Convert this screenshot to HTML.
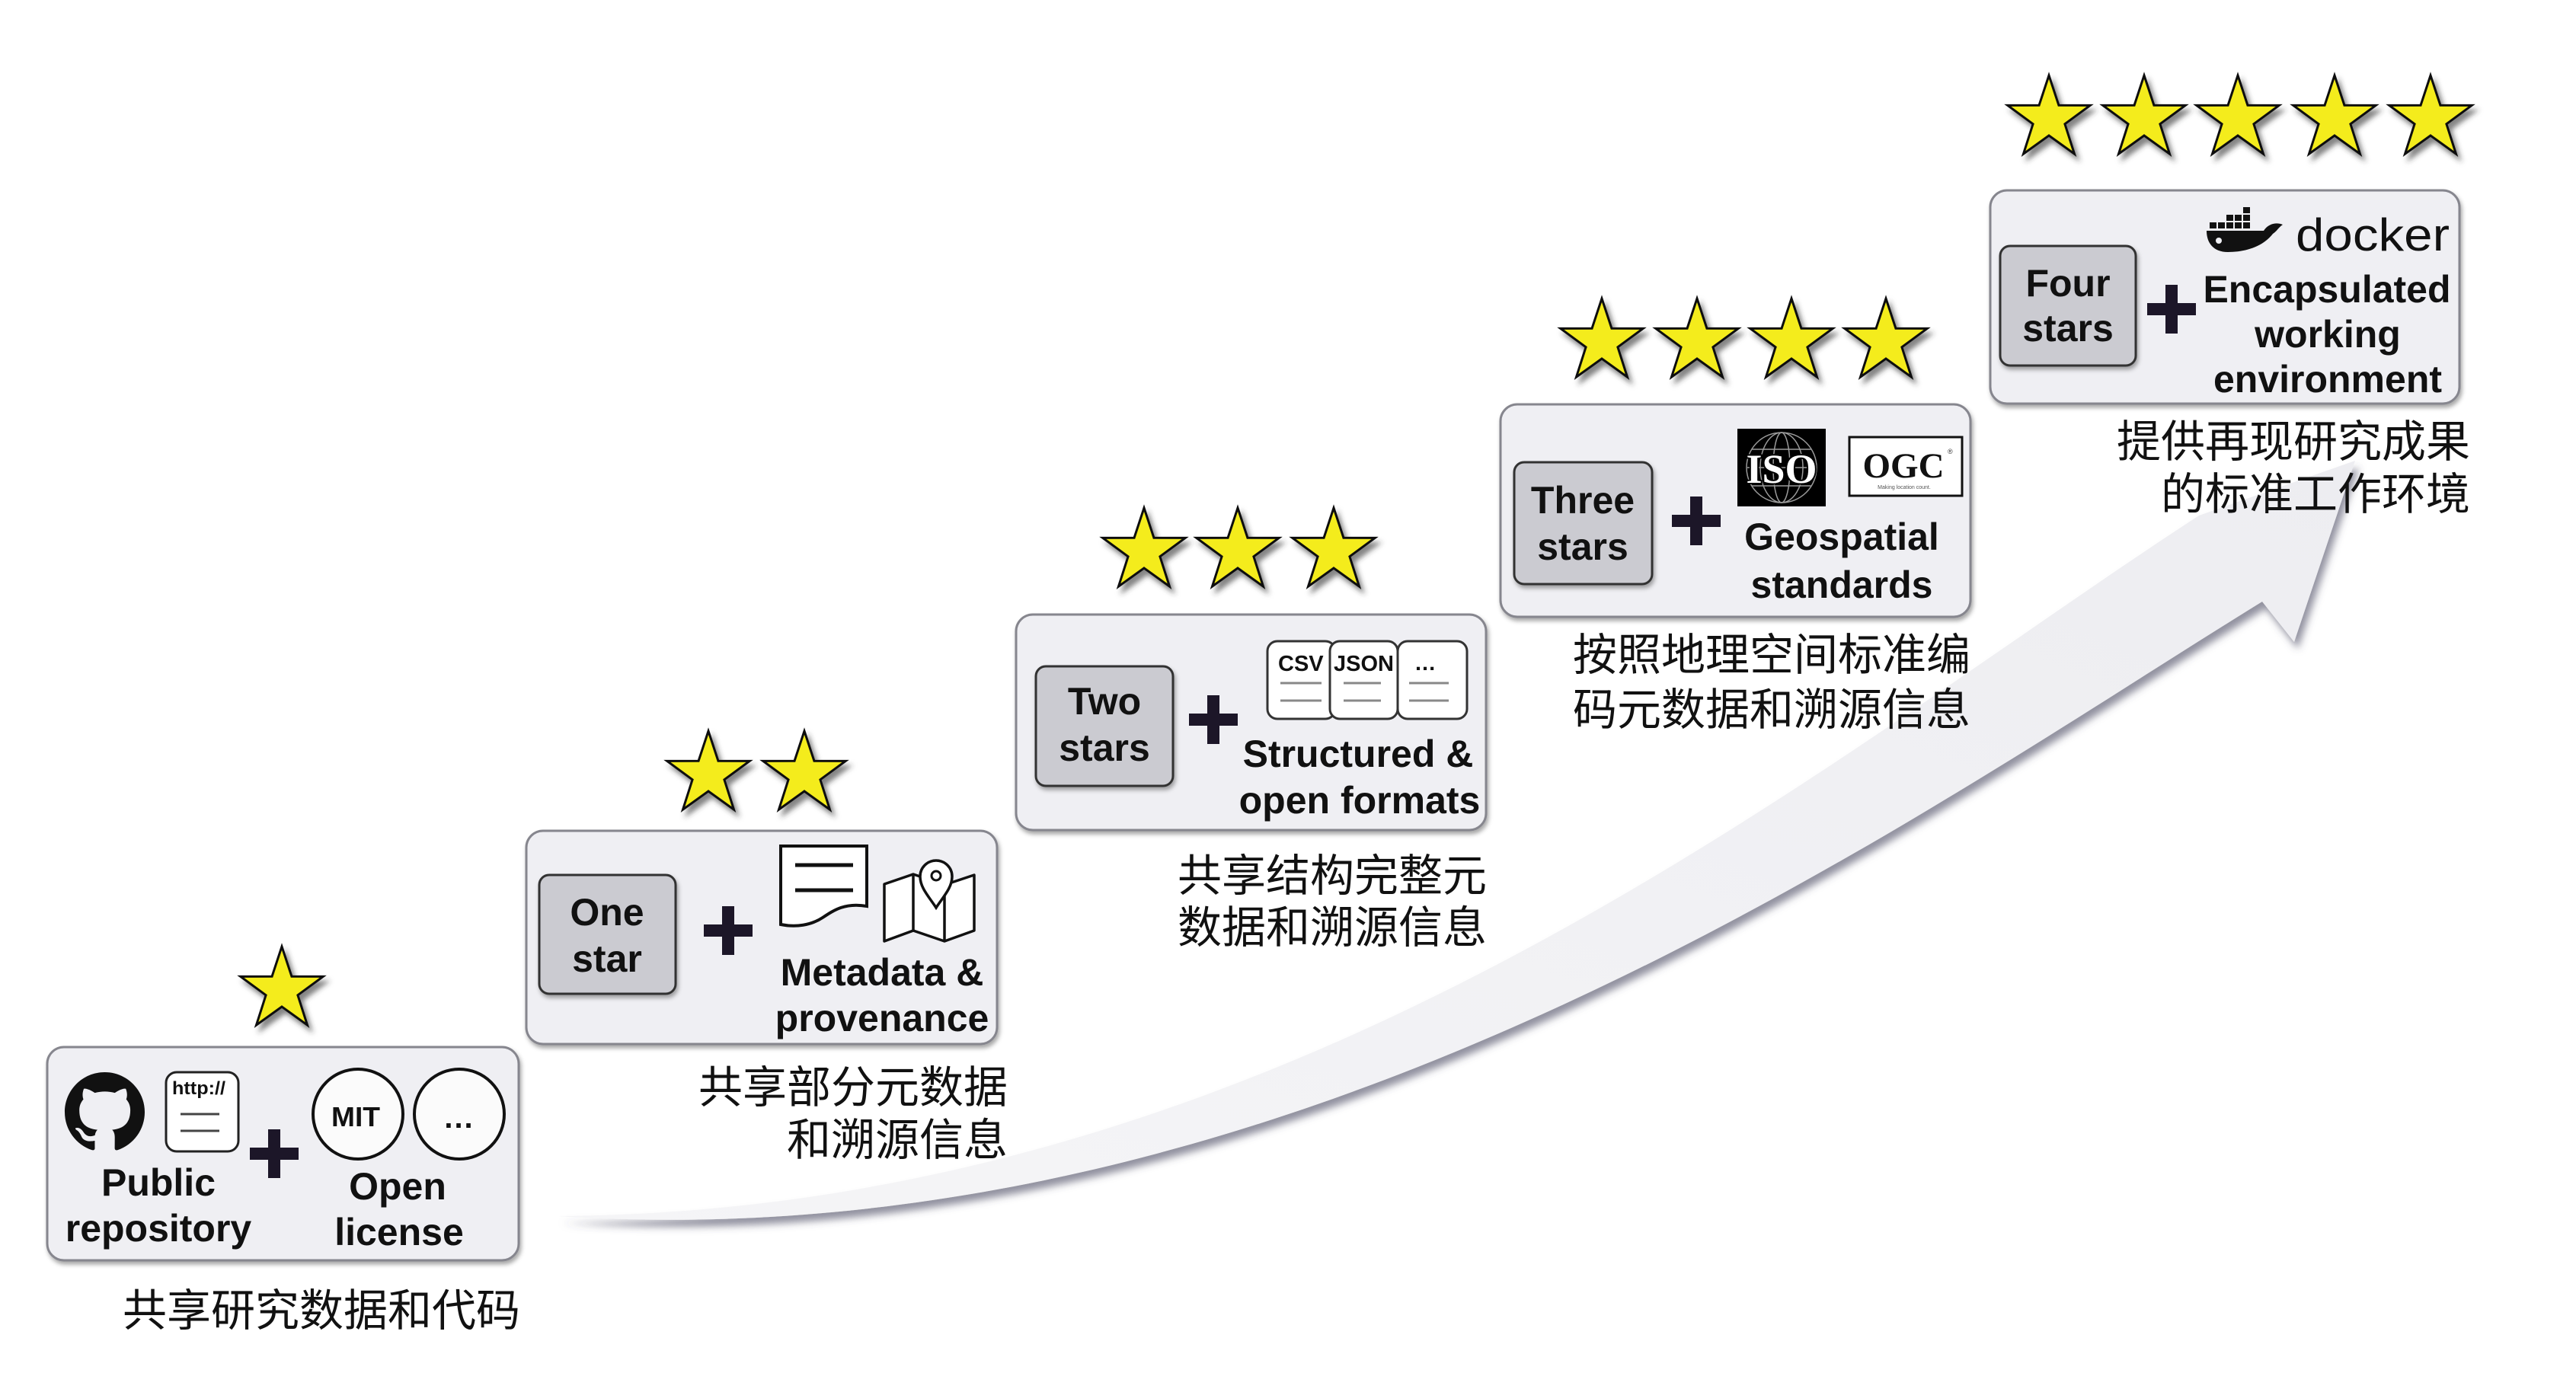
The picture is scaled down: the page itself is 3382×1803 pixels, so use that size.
<!DOCTYPE html>
<html>
<head>
<meta charset="utf-8">
<style>
html,body{margin:0;padding:0;background:#fff;}
svg{display:block;}
.b{font-family:"Liberation Sans",Arial,sans-serif;font-weight:bold;fill:#111;}
.cj{font-family:"Liberation Sans","Noto Sans CJK SC","WenQuanYi Zen Hei",sans-serif;font-size:58px;fill:#111;}
.sf{font-family:"Liberation Serif","Times New Roman",serif;font-weight:bold;}
</style>
</head>
<body>
<svg width="3382" height="1803" viewBox="0 0 3382 1803" xmlns="http://www.w3.org/2000/svg">
<defs>
  <filter id="sh" x="-10%" y="-10%" width="120%" height="130%">
    <feDropShadow dx="2" dy="4" stdDeviation="3" flood-color="#000" flood-opacity="0.35"/>
  </filter>
  <filter id="ssh" x="-30%" y="-30%" width="170%" height="170%">
    <feDropShadow dx="5" dy="7" stdDeviation="3.5" flood-color="#333" flood-opacity="0.6"/>
  </filter>
  <filter id="ash" x="-5%" y="-20%" width="115%" height="140%">
    <feDropShadow dx="5" dy="9" stdDeviation="5" flood-color="#4a4a60" flood-opacity="0.6"/>
  </filter>
  <linearGradient id="ag" x1="0" y1="1" x2="1" y2="0">
    <stop offset="0" stop-color="#f5f5f7"/>
    <stop offset="1" stop-color="#ededf1"/>
  </linearGradient>
  <polygon id="st" points="0,-57 12.93,-17.8 54.21,-17.61 20.92,6.8 33.5,46.11 0,22 -33.5,46.11 -20.92,6.8 -54.21,-17.61 -12.93,-17.8" fill="#f4ec1c" stroke="#111" stroke-width="3"/>
</defs>

<!-- Big curved arrow -->
<path d="M733,1597 C1700,1590 2387,1002 2887,677 L3092,605 L3012,843 L2970,790 C2500,1080 1700,1660 733,1597 Z" fill="url(#ag)" filter="url(#ash)"/>

<!-- ============ STARS ============ -->
<g filter="url(#ssh)">
  <use href="#st" x="370" y="1300"/>
  <use href="#st" x="930" y="1017"/>
  <use href="#st" x="1056" y="1017"/>
  <use href="#st" x="1502" y="724"/>
  <use href="#st" x="1625" y="724"/>
  <use href="#st" x="1751" y="724"/>
  <use href="#st" x="2103" y="449"/>
  <use href="#st" x="2228" y="449"/>
  <use href="#st" x="2352" y="449"/>
  <use href="#st" x="2476" y="449"/>
  <use href="#st" x="2690" y="156"/>
  <use href="#st" x="2815" y="156"/>
  <use href="#st" x="2938" y="156"/>
  <use href="#st" x="3065" y="156"/>
  <use href="#st" x="3191" y="156"/>
</g>

<!-- ============ BOXES ============ -->
<g fill="#efeff3" stroke="#86868e" stroke-width="3" filter="url(#sh)">
  <rect x="62" y="1375" width="619" height="280" rx="22"/>
  <rect x="691" y="1091" width="618" height="280" rx="22"/>
  <rect x="1334" y="807" width="617" height="283" rx="22"/>
  <rect x="1970" y="531" width="617" height="279" rx="22"/>
  <rect x="2613" y="250" width="616" height="280" rx="22"/>
</g>

<!-- inner grey tiles -->
<g fill="#cbcbd1" stroke="#333" stroke-width="3" filter="url(#sh)">
  <rect x="708" y="1149" width="179" height="156" rx="13"/>
  <rect x="1360" y="875" width="180" height="157" rx="13"/>
  <rect x="1988" y="607" width="181" height="160" rx="13"/>
  <rect x="2626" y="323" width="178" height="157" rx="13"/>
</g>
<g class="b" font-size="50" text-anchor="middle">
  <text x="797" y="1215">One</text>
  <text x="797" y="1276">star</text>
  <text x="1450" y="938">Two</text>
  <text x="1450" y="999">stars</text>
  <text x="2078" y="674">Three</text>
  <text x="2078" y="735">stars</text>
  <text x="2715" y="389">Four</text>
  <text x="2715" y="448">stars</text>
</g>

<!-- plus signs -->
<g fill="#1c1628">
  <rect x="328" y="1507" width="64" height="16"/><rect x="352" y="1483" width="16" height="64"/>
  <rect x="924" y="1214" width="64" height="16"/><rect x="948" y="1190" width="16" height="64"/>
  <rect x="1561" y="937" width="64" height="16"/><rect x="1585" y="913" width="16" height="64"/>
  <rect x="2195" y="676" width="64" height="16"/><rect x="2219" y="652" width="16" height="64"/>
  <rect x="2819" y="398" width="64" height="16"/><rect x="2843" y="374" width="16" height="64"/>
</g>

<!-- ============ BOX 1 content ============ -->
<g transform="translate(85,1408) scale(6.5625)">
  <path fill="#111" d="M8 0C3.58 0 0 3.58 0 8c0 3.54 2.29 6.53 5.470 7.59.4.07.55-.17.55-.38 0-.19-.01-.82-.01-1.49-2.01.37-2.53-.49-2.69-.94-.09-.23-.48-.94-.82-1.13-.28-.15-.68-.52-.01-.53.63-.01 1.08.58 1.23.82.72 1.21 1.870.87 2.33.66.07-.52.28-.87.51-1.07-1.78-.2-3.64-.89-3.64-3.95 0-.87.31-1.59.82-2.15-.08-.2-.36-1.02.08-2.12 0 0 .67-.21 2.2.82.64-.18 1.32-.27 2-.27.68 0 1.36.09 2 .27 1.53-1.04 2.2-.82 2.2-.82.44 1.1.16 1.92.08 2.12.51.56.82 1.27.82 2.15 0 3.07-1.87 3.750-3.65 3.95.29.25.54.73.54 1.48 0 1.07-.01 1.93-.01 2.2 0 .21.15.46.55.38A8.013 8.013 0 0016 8c0-4.42-3.58-8-8-8z"/>
</g>
<rect x="218" y="1408" width="95" height="104" rx="14" fill="#fff" stroke="#222" stroke-width="3"/>
<text class="b" x="226" y="1437" font-size="24" textLength="70" lengthAdjust="spacingAndGlyphs" fill="#333">http://</text>
<path d="M237,1463 H288 M237,1485 H288" stroke="#444" stroke-width="3"/>
<circle cx="470" cy="1463" r="59" fill="#fbfbfb" stroke="#111" stroke-width="4"/>
<circle cx="603" cy="1463" r="59" fill="#fbfbfb" stroke="#111" stroke-width="4"/>
<text class="b" x="467" y="1479" font-size="36" text-anchor="middle" textLength="64" lengthAdjust="spacingAndGlyphs">MIT</text>
<text class="b" x="603" y="1481" font-size="40" text-anchor="middle" letter-spacing="2">...</text>
<g class="b" font-size="50" text-anchor="middle">
  <text x="208" y="1570">Public</text>
  <text x="208" y="1630">repository</text>
  <text x="522" y="1575">Open</text>
  <text x="524" y="1635">license</text>
</g>

<!-- ============ BOX 2 content ============ -->
<path d="M1025,1111 L1138,1111 L1138,1190 C1110,1185 1095,1195 1080,1205 C1065,1215 1045,1218 1025,1214 Z" fill="#fff" stroke="#111" stroke-width="4" stroke-linejoin="miter"/>
<path d="M1044,1136 H1120 M1044,1169 H1120" stroke="#111" stroke-width="5"/>
<polygon points="1161,1161 1199,1148 1240,1162 1279,1149 1279,1222 1240,1236 1199,1222 1161,1236" fill="#fff" stroke="#111" stroke-width="3.5" stroke-linejoin="round"/>
<path d="M1199,1148 V1222 M1240,1162 V1236" stroke="#111" stroke-width="3.5"/>
<path d="M1229,1192 C1220,1178 1208,1166 1208,1151 A21,21 0 1 1 1250,1151 C1250,1166 1238,1178 1229,1192 Z" fill="#fff" stroke="#111" stroke-width="3.5"/>
<circle cx="1229" cy="1150" r="6" fill="#fff" stroke="#111" stroke-width="3"/>
<g class="b" font-size="50" text-anchor="middle">
  <text x="1158" y="1294">Metadata &amp;</text>
  <text x="1158" y="1354">provenance</text>
</g>

<!-- ============ BOX 3 content ============ -->
<g fill="#fff" stroke="#333" stroke-width="3">
  <rect x="1664" y="842" width="89" height="102" rx="13"/>
  <rect x="1746" y="842" width="89" height="102" rx="13"/>
  <rect x="1835" y="842" width="91" height="102" rx="13"/>
</g>
<g class="b" font-size="29" fill="#222">
  <text x="1678" y="881">CSV</text>
  <text x="1751" y="881">JSON</text>
  <text x="1858" y="880" letter-spacing="1">...</text>
</g>
<path d="M1681,897 H1735 M1681,920 H1735 M1764,897 H1813 M1764,920 H1813 M1850,897 H1902 M1850,920 H1902" stroke="#888" stroke-width="3"/>
<g class="b" font-size="50" text-anchor="middle">
  <text x="1783" y="1007">Structured &amp;</text>
  <text x="1785" y="1068">open formats</text>
</g>

<!-- ============ BOX 4 content ============ -->
<rect x="2281" y="563" width="116" height="102" fill="#000"/>
<g fill="none" stroke="#9a9a9a" stroke-width="1.5">
  <circle cx="2339" cy="614" r="46"/>
  <ellipse cx="2339" cy="614" rx="28" ry="46"/>
  <ellipse cx="2339" cy="614" rx="11" ry="46"/>
  <path d="M2300,590 H2378 M2300,638 H2378 M2294,614 H2384"/>
</g>
<text class="sf" x="2339" y="634" font-size="54" fill="#fff" stroke="#000" stroke-width="4" paint-order="stroke" text-anchor="middle">ISO</text>
<rect x="2428" y="574" width="148" height="77" fill="#fff" stroke="#111" stroke-width="3"/>
<text class="sf" x="2499" y="627" font-size="47" fill="#111" text-anchor="middle">OGC</text>
<text x="2557" y="596" font-size="9" font-family="Liberation Sans,sans-serif" fill="#333">®</text>
<text x="2500" y="642" font-size="7" font-family="Liberation Sans,sans-serif" fill="#555" text-anchor="middle">Making location count.</text>
<g class="b" font-size="50" text-anchor="middle">
  <text x="2418" y="722">Geospatial</text>
  <text x="2418" y="785">standards</text>
</g>

<!-- ============ BOX 5 content ============ -->
<g fill="#111">
  <path d="M2897,303 L2972,303 C2977,295 2987,291 2997,295 C2991,299 2989,304 2984,307 C2970,325 2946,331 2925,331 C2906,331 2897,319 2897,303 Z"/>
  <rect x="2901" y="292" width="9" height="8"/>
  <rect x="2912" y="292" width="9" height="8"/>
  <rect x="2923" y="292" width="9" height="8"/>
  <rect x="2934" y="292" width="9" height="8"/>
  <rect x="2945" y="292" width="9" height="8"/>
  <rect x="2923" y="282" width="9" height="8"/>
  <rect x="2934" y="282" width="9" height="8"/>
  <rect x="2945" y="282" width="9" height="8"/>
  <rect x="2945" y="272" width="9" height="8"/>
</g>
<circle cx="2913" cy="316" r="4" fill="#efeff3"/>
<text x="3014" y="329" font-size="60" font-family="Liberation Sans,Arial,sans-serif" fill="#111" textLength="202" lengthAdjust="spacingAndGlyphs">docker</text>
<g class="b" font-size="50" text-anchor="middle">
  <text x="3055" y="397">Encapsulated</text>
  <text x="3056" y="456">working</text>
  <text x="3056" y="515">environment</text>
</g>

<!-- ============ CAPTIONS ============ -->
<text class="cj" x="161" y="1741">共享研究数据和代码</text>
<text class="cj" x="1323" y="1448" text-anchor="end">共享部分元数据</text>
<text class="cj" x="1323" y="1517" text-anchor="end">和溯源信息</text>
<text class="cj" x="1546" y="1170">共享结构完整元</text>
<text class="cj" x="1546" y="1238">数据和溯源信息</text>
<text class="cj" x="2065" y="880">按照地理空间标准编</text>
<text class="cj" x="2065" y="952">码元数据和溯源信息</text>
<text class="cj" x="3243" y="600" text-anchor="end">提供再现研究成果</text>
<text class="cj" x="3243" y="669" text-anchor="end">的标准工作环境</text>
</svg>
</body>
</html>
